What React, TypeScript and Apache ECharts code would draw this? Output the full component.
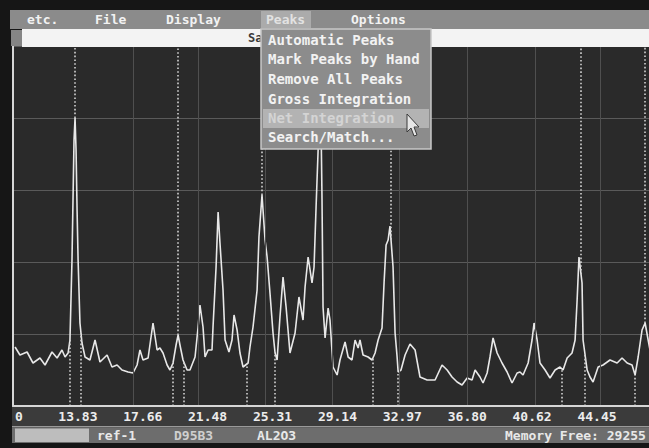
import React, { useEffect, useRef } from "react";
import * as echarts from "echarts";

// 2-theta (degrees) and intensity (counts)
const twoTheta = [
  10.12, 10.41, 10.83, 11.18, 11.59, 11.89, 12.3, 12.6, 12.89, 13.07,
  13.25, 13.36, 13.48, 13.54, 13.6, 13.66, 13.72, 13.78, 13.84, 13.95,
  14.07, 14.25, 14.54, 14.84, 15.13, 15.55, 15.84, 16.14, 16.43, 16.79,
  17.08, 17.32, 17.49, 17.67, 17.97, 18.26, 18.5, 18.67, 18.85, 19.09,
  19.26, 19.44, 19.62, 19.74, 19.85, 20.03, 20.27, 20.44, 20.74, 20.92,
  21.03, 21.21, 21.33, 21.51, 21.74, 21.8, 21.98, 22.1, 22.21, 22.39,
  22.51, 22.74, 22.92, 23.04, 23.22, 23.39, 23.57, 23.87, 23.98, 24.16,
  24.4, 24.51, 24.69, 24.87, 24.99, 25.16, 25.34, 25.46, 25.58, 25.75,
  25.93, 26.11, 26.34, 26.64, 26.87, 27.11, 27.23, 27.41, 27.64, 27.76,
  27.88, 28.0, 28.08, 28.17, 28.23, 28.29, 28.41, 28.59, 28.7, 28.88,
  29.12, 29.29, 29.59, 29.77, 30.0, 30.18, 30.36, 30.47, 30.65, 30.95,
  31.18, 31.36, 31.54, 31.77, 31.89, 32.01, 32.13, 32.24, 32.42, 32.54,
  32.66, 32.72, 32.89, 33.13, 33.42, 33.72, 34.01, 34.43, 34.9, 35.31,
  35.61, 35.9, 36.2, 36.49, 36.79, 37.08, 37.26, 37.55, 37.73, 37.97,
  38.14, 38.32, 38.56, 38.85, 39.15, 39.44, 39.74, 39.91, 40.09, 40.39,
  40.62, 40.74, 40.92, 41.09, 41.39, 41.68, 41.98, 42.27, 42.45, 42.69,
  42.98, 43.16, 43.28, 43.39, 43.57, 43.63, 43.87, 44.04, 44.22, 44.52,
  44.81, 45.22, 45.64, 45.93, 46.23, 46.52, 46.7, 46.88, 47.11, 47.29,
  47.47, 47.58,
];

const counts = [
  590, 510, 540, 430, 480, 410, 540, 480, 560, 490,
  530, 660, 1460, 2060, 2660, 2880, 2560, 1960, 1460, 830,
  630, 490, 460, 660, 440, 510, 390, 410, 360, 340,
  330, 410, 560, 460, 480, 830, 560, 580, 530, 410,
  360, 430, 610, 710, 610, 460, 360, 360, 490, 790,
  1010, 790, 490, 560, 560, 790, 1390, 1940, 1630, 1160,
  660, 540, 660, 910, 760, 530, 390, 430, 590, 790,
  1160, 1690, 2110, 1660, 1490, 1130, 730, 530, 460, 890,
  1290, 990, 530, 730, 1090, 860, 1190, 1490, 1230, 1390,
  1990, 2560, 3460, 2860, 2060, 990, 680, 980, 860, 390,
  310, 460, 640, 490, 460, 660, 580, 660, 510, 490,
  460, 530, 660, 780, 1230, 1610, 1660, 1800, 1390, 730,
  490, 340, 360, 510, 620, 560, 290, 260, 260, 410,
  360, 290, 240, 210, 280, 260, 360, 290, 230, 330,
  490, 680, 530, 430, 340, 230, 330, 340, 310, 430,
  660, 830, 660, 430, 360, 280, 360, 390, 360, 480,
  530, 660, 1060, 1490, 1230, 660, 360, 290, 240, 390,
  410, 460, 430, 480, 430, 410, 310, 490, 760, 830,
  660, 560,
];

const tickLabels = [13.83, 17.66, 21.48, 25.31, 29.14, 32.97, 36.8, 40.62, 44.45];
const peakMarks = [13.66, 19.74, 24.69, 28.08, 32.3, 43.51, 47.29];
const boundaryMarks = [13.36, 14.01, 19.44, 20.09, 23.81, 25.46, 31.24, 32.72, 42.39, 43.75, 46.7];
const gridX = [17.08, 20.92, 24.87, 28.82, 32.77, 36.79, 40.8, 44.63];

const menuItems = ["etc.", "File", "Display", "Peaks", "Options"];
const peaksMenu = [
  "Automatic Peaks",
  "Mark Peaks by Hand",
  "Remove All Peaks",
  "Gross Integration",
  "Net Integration",
  "Search/Match...",
];
const statusItems = ["ref-1", "D95B3", "AL2O3", "Memory Free: 29255"];
const titleText = "Sa";
const leftLabel = "0";

const X_MIN = 10;
const X_MAX = 47.52;
const Y_MAX = 3600;

function valueAt(x: number): number {
  for (let i = 0; i < twoTheta.length - 1; i++) {
    if (x >= twoTheta[i] && x <= twoTheta[i + 1]) {
      const t = (x - twoTheta[i]) / (twoTheta[i + 1] - twoTheta[i]);
      return counts[i] + t * (counts[i + 1] - counts[i]);
    }
  }
  return counts[counts.length - 1];
}

const MONO = '"DejaVu Sans Mono", "Liberation Mono", monospace';

function txt(text: string, x: number, y: number, fill: string, size = 13, z = 20) {
  return {
    type: "text",
    x,
    y,
    z,
    silent: true,
    style: {
      text,
      fill,
      fontFamily: MONO,
      fontWeight: "bold",
      fontSize: size,
      verticalAlign: "middle",
      align: "left",
    },
  };
}

function rect(x: number, y: number, width: number, height: number, fill: string, z = 10, extra: any = {}) {
  return {
    type: "rect",
    z,
    silent: true,
    shape: { x, y, width, height },
    style: { fill, ...extra },
  };
}

export default function App() {
  const ref = useRef<HTMLDivElement>(null);

  useEffect(() => {
    if (!ref.current) return;
    const chart = echarts.init(ref.current, undefined, { renderer: "svg" });

    const spectrum = twoTheta.map((t, i) => [t, counts[i]]);

    const menuX = [27, 95, 166, 266, 351];
    const itemY = [40, 59, 79, 99, 118, 137];
    const statusX = [97, 174, 257, 505];

    const graphic: any[] = [
      // menu bar
      rect(10, 10, 639, 19, "#8b8b8b", 10),
      rect(261, 11, 50, 17, "#ababab", 11),
      ...menuItems.map((m, i) => txt(m, menuX[i], 19.5, i === 3 ? "#e2e2e2" : "#f2f2f2", 13, 12)),
      // title bar
      rect(11, 30, 11, 16, "#858585", 10),
      rect(22, 29, 627, 18, "#f3f3f3", 10),
      txt(titleText, 248, 38, "#3a3a3a", 12, 12),
      // dropdown menu
      rect(261, 29, 170, 120, "#8c8c8c", 30, { stroke: "#c8c8c8", lineWidth: 1.5 }),
      rect(263, 109, 166, 19, "#b3b3b3", 31),
      ...peaksMenu.map((m, i) => txt(m, 268, itemY[i], i === 4 ? "#d4d4d4" : "#f2f2f2", 14, 32)),
      {
        type: "polygon",
        z: 40,
        silent: true,
        shape: {
          points: [
            [407, 114],
            [407, 132],
            [411, 128],
            [414, 136],
            [417, 135],
            [414, 127],
            [419, 127],
          ],
        },
        style: { fill: "#e6e6e6", stroke: "#3a3a3a", lineWidth: 1 },
      },
      // axis label band and status bar
      rect(12, 407, 637, 19, "#3b3b3b", 1),
      txt(leftLabel, 15, 416.5, "#ececec", 13, 6),
      rect(12, 426, 637, 1.5, "#9a9a9a", 1),
      rect(12, 427.5, 637, 15.5, "#6d6d6d", 1),
      rect(15, 428.5, 74, 13.5, "#bdbdbd", 2),
      ...statusItems.map((s, i) => txt(s, statusX[i], 435.5, i === 1 ? "#cfcfcf" : "#e8e8e8", 13, 6)),
    ];

    const option: any = {
      animation: false,
      backgroundColor: "#161616",
      grid: {
        left: 13,
        right: 0,
        top: 46,
        bottom: 42,
        show: true,
        backgroundColor: "#2a2a2a",
        borderWidth: 0,
      },
      xAxis: {
        type: "value",
        min: X_MIN,
        max: X_MAX,
        z: 5,
        axisLine: { show: true, onZero: false, lineStyle: { color: "#d6d6d6", width: 2 } },
        axisTick: { show: false },
        splitLine: { show: false },
        axisLabel: {
          customValues: tickLabels,
          formatter: (v: number) => v.toFixed(2),
          color: "#ececec",
          fontFamily: MONO,
          fontWeight: "bold",
          fontSize: 13,
          margin: 4,
        },
      },
      yAxis: {
        type: "value",
        min: 0,
        max: Y_MAX,
        interval: 720,
        axisLine: { show: true, lineStyle: { color: "#d6d6d6", width: 2 } },
        axisTick: { show: false },
        axisLabel: { show: false },
        splitLine: { show: true, lineStyle: { color: "#5a5a5a", width: 1 } },
      },
      series: [
        {
          type: "line",
          data: [],
          z: 1,
          silent: true,
          markLine: {
            silent: true,
            symbol: ["none", "none"],
            label: { show: false },
            lineStyle: { color: "#4f4f4f", width: 1, type: "solid" },
            data: gridX.map((v) => ({ xAxis: v })),
          },
        },
        {
          type: "line",
          data: [],
          z: 2,
          silent: true,
          markLine: {
            silent: true,
            symbol: ["none", "none"],
            label: { show: false },
            lineStyle: { color: "#d2d2d2", width: 1.6, type: [1.6, 2.2] },
            data: [
              ...peakMarks.map((p) => [{ coord: [p, valueAt(p)] }, { coord: [p, Y_MAX] }]),
              ...boundaryMarks.map((p) => [{ coord: [p, 0] }, { coord: [p, valueAt(p)] }]),
            ],
          },
        },
        {
          type: "line",
          data: spectrum,
          z: 3,
          showSymbol: false,
          symbol: "none",
          silent: true,
          clip: true,
          lineStyle: { color: "#e8e8e8", width: 1.6 },
        },
      ],
      graphic,
    };

    chart.setOption(option);
    return () => chart.dispose();
  }, []);

  return (
    <div
      ref={ref}
      style={{ position: "absolute", left: 0, top: 0, width: 649, height: 448 }}
    />
  );
}
